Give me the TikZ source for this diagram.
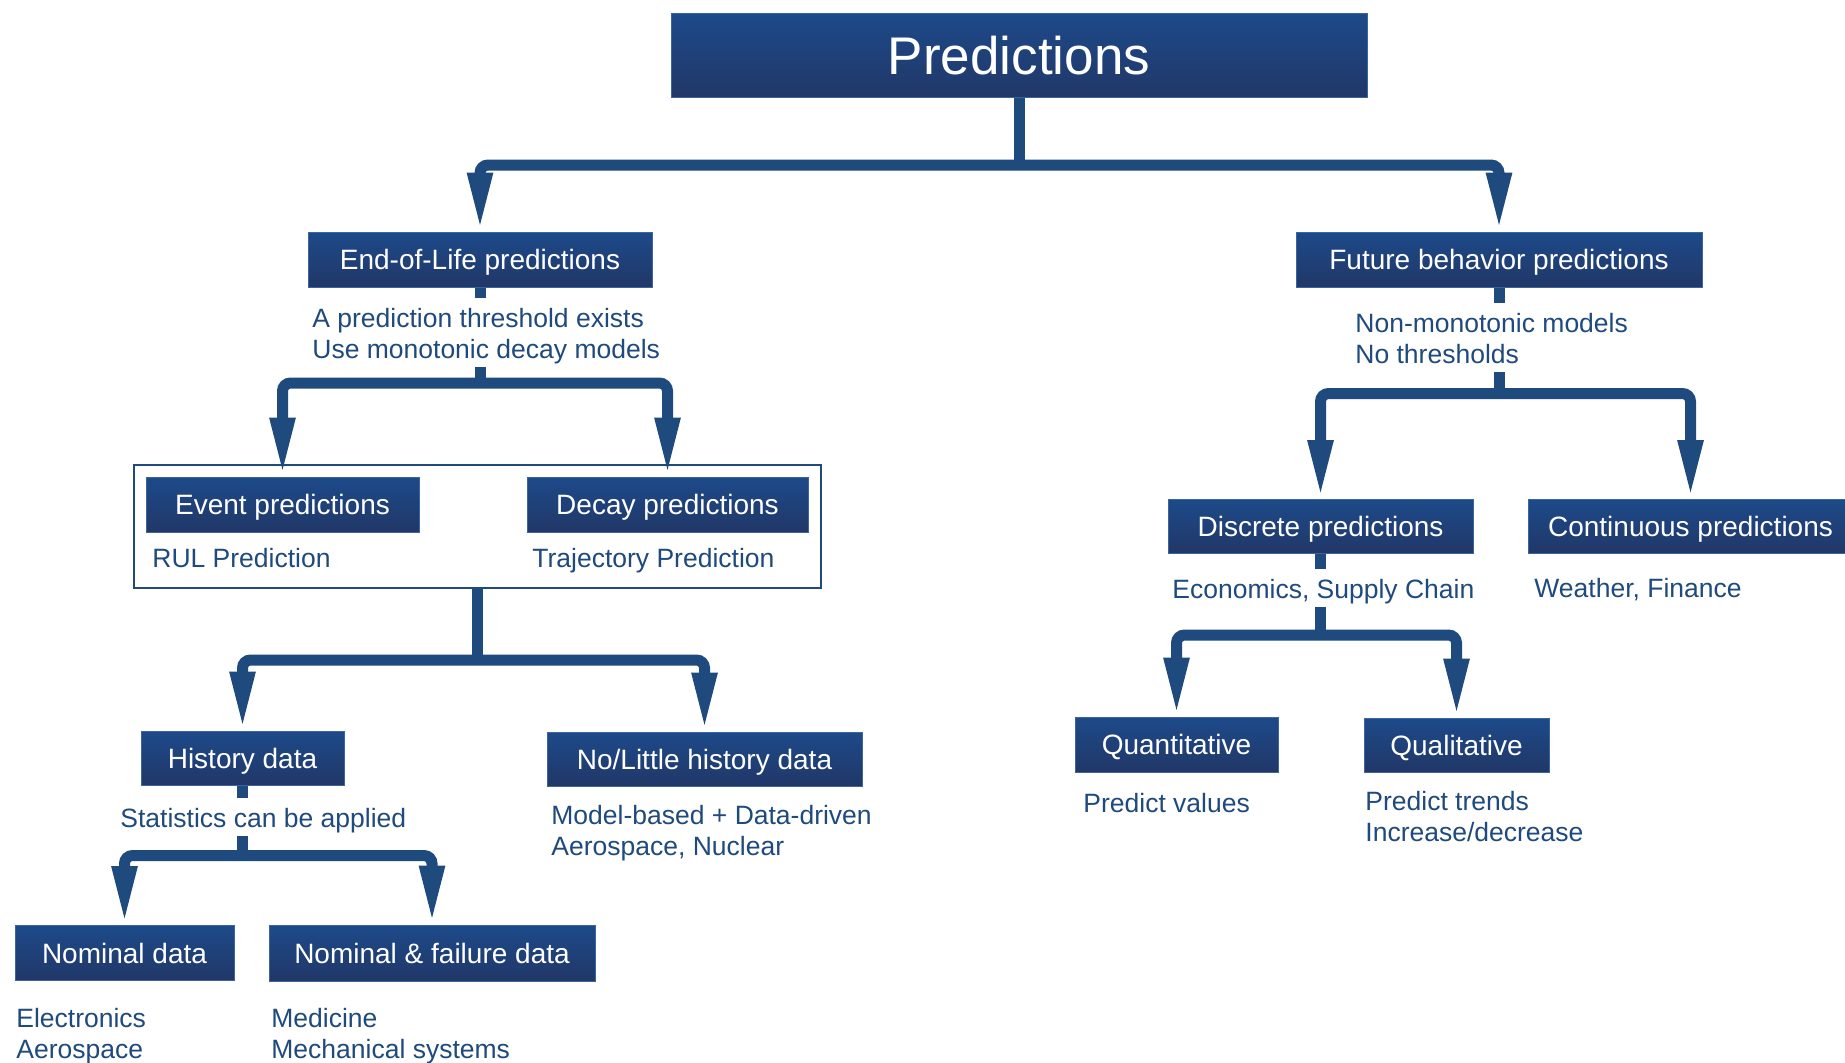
\documentclass[tikz,border=0pt]{standalone}
\usepackage{fontspec}
\setmainfont{Liberation Sans}
\usetikzlibrary{arrows.meta}

\definecolor{boxtop}{HTML}{1D4A8A}
\definecolor{boxbot}{HTML}{213767}
\definecolor{boxedge}{HTML}{3A65A0}
\definecolor{linkblue}{HTML}{1F4A7D}

% struts that fix the top and bottom of the description blocks
\newcommand\topstrut{\rule{0pt}{1.1em}}
\newcommand\botstrut{\rule[-0.32em]{0pt}{0.32em}}

\begin{document}
\begin{tikzpicture}[x=0.5pt,y=-0.5pt,
  catbox/.style={rectangle, top color=boxtop, bottom color=boxbot,
    draw=boxedge, line width=0.5pt, text=white,
    font=\fontsize{14}{16}\selectfont, text height=10pt, text depth=0pt,
    inner sep=0pt},
  desc/.style={anchor=north west, inner sep=0pt, align=left,
    text=linkblue, font=\fontsize{13.25}{15.5}\selectfont},
  link/.style={draw=linkblue, line width=5.5pt},
  fork/.style={link, rounded corners=4pt,
    {Triangle[length=29.5pt,width=11.5pt]}-{Triangle[length=29.5pt,width=11.5pt]}},
  group/.style={draw=linkblue, line width=1pt, inner sep=0pt}
]
\useasboundingbox (0,0) rectangle (1845,1062);
\fill[white] (0,0) rectangle (1845,1062);
\clip (0,0) rectangle (1845,1062);

% ---------- root ----------
\node[catbox, minimum width=348pt, minimum height=42pt,
  font=\fontsize{26.5}{30}\selectfont, text height=19pt] (pred) at (1019,55) {Predictions};

% ---------- first level ----------
\node[catbox, minimum width=172pt, minimum height=27.5pt] (eol) at (480,259.5) {End-of-Life predictions};
\node[catbox, minimum width=203pt, minimum height=27.5pt] (fut) at (1499,259.5) {Future behavior predictions};

\node[desc] (eoltxt) at (312,297.5) {\topstrut A prediction threshold exists\\Use monotonic decay models\botstrut};
\node[desc] (futtxt) at (1355,302.5) {\topstrut Non-monotonic models\\No thresholds\botstrut};

% ---------- end-of-life branch ----------
\node[group, minimum width=343.5pt, minimum height=61.5pt] (grp) at (477.5,526.5) {};
\node[catbox, minimum width=136.5pt, minimum height=27.5pt] (event) at (282.5,504.5) {Event predictions};
\node[catbox, minimum width=140.5pt, minimum height=27.5pt] (decay) at (667.5,504.5) {Decay predictions};
\node[desc] (rul) at (152,537.5) {\topstrut RUL Prediction\botstrut};
\node[desc] (traj) at (532,537.5) {\topstrut Trajectory Prediction\botstrut};

\node[catbox, minimum width=101.5pt, minimum height=27pt] (hist) at (242.5,758) {History data};
\node[catbox, minimum width=157.5pt, minimum height=27pt] (nolit) at (704.5,759) {No/Little history data};
\node[desc] (histtxt) at (120,797.5) {\topstrut Statistics can be applied\botstrut};
\node[desc] (noltxt) at (551,794.5) {\topstrut Model-based + Data-driven\\Aerospace, Nuclear\botstrut};

\node[catbox, minimum width=109.5pt, minimum height=27.5pt] (nom) at (124.5,953) {Nominal data};
\node[catbox, minimum width=163pt, minimum height=28pt] (nomf) at (432,953) {Nominal \& failure data};
\node[desc] (nomtxt) at (16,997.5) {\topstrut Electronics\\Aerospace\botstrut};
\node[desc] (nomftxt) at (271,997.5) {\topstrut Medicine\\Mechanical systems\botstrut};

% ---------- future-behaviour branch ----------
\node[catbox, minimum width=152.5pt, minimum height=27pt] (disc) at (1320.5,526.5) {Discrete predictions};
\node[catbox, minimum width=162.5pt, minimum height=27pt] (cont) at (1690.5,526.5) {Continuous predictions};
\node[desc] (disctxt) at (1172,568.5) {\topstrut Economics, Supply Chain\botstrut};
\node[desc] (weather) at (1534,567.5) {\topstrut Weather, Finance\botstrut};

\node[catbox, minimum width=101.5pt, minimum height=27.5pt] (quant) at (1176.5,744.5) {Quantitative};
\node[catbox, minimum width=92.5pt, minimum height=27pt] (qual) at (1456.5,745) {Qualitative};
\node[desc] (quanttxt) at (1083,782.5) {\topstrut Predict values\botstrut};
\node[desc] (qualtxt) at (1365,780.5) {\topstrut Predict trends\\Increase/decrease\botstrut};

% ---------- junctions of the forks ----------
\coordinate (topbar) at (1019,165);
\coordinate (eolbar) at (480,383);
\coordinate (futbar) at (1499,393.5);
\coordinate (grpbar) at (477.5,660);
\coordinate (histbar) at (242.5,855.5);
\coordinate (discbar) at (1320.5,635);

% ---------- connectors ----------
\draw[link] (pred.south) -- (topbar);
\draw[fork] (eol.north) |- (topbar) -| (fut.north);

\draw[link] (eol.south) -- (eol.south |- eoltxt.north);
\draw[link] (eol.south |- eoltxt.south) -- (eolbar);
\draw[fork] (event.north) |- (eolbar) -| (decay.north);

\draw[link] (grp.south) -- (grpbar);
\draw[fork] (hist.north) |- (grpbar) -| (nolit.north);

\draw[link] (hist.south) -- (hist.south |- histtxt.north);
\draw[link] (hist.south |- histtxt.south) -- (histbar);
\draw[fork] (nom.north) |- (histbar) -| (nomf.north);

\draw[link] (fut.south) -- (fut.south |- futtxt.north);
\draw[link] (fut.south |- futtxt.south) -- (futbar);
\draw[fork] (disc.north) |- (futbar) -| (cont.north);

\draw[link] (disc.south) -- (disc.south |- disctxt.north);
\draw[link] (disc.south |- disctxt.south) -- (discbar);
\draw[fork] (quant.north) |- (discbar) -| (qual.north);
\end{tikzpicture}
\end{document}
